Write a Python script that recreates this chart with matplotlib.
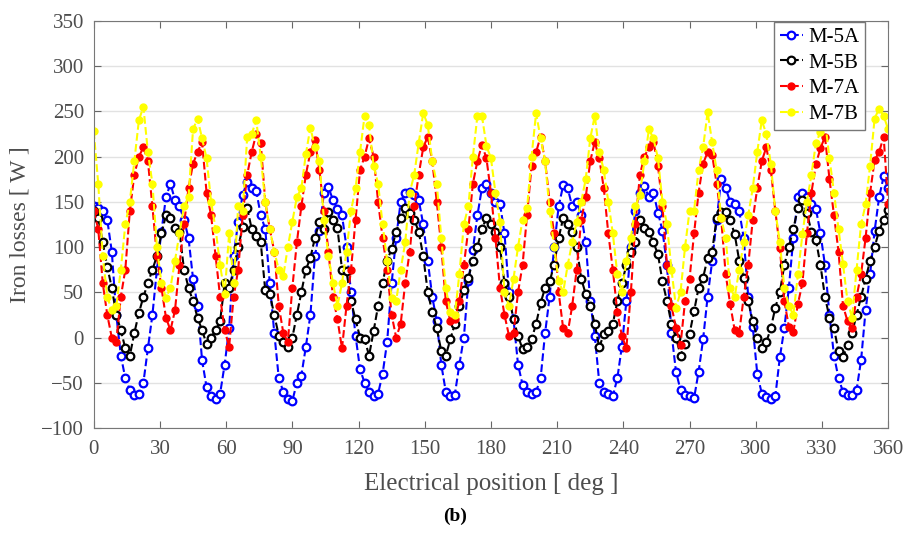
import numpy as np
import matplotlib
matplotlib.use("Agg")
import matplotlib.pyplot as plt

# iron losses [W] vs electrical position, 177 samples over 0..360 deg
m5a = [145, 143, 140, 130, 95, 25, -20, -45, -58, -63,
       -62, -50, -12, 25, 75, 117, 155, 170, 152, 145,
       130, 110, 65, 35, -25, -55, -65, -68, -62, -30,
       10, 90, 128, 158, 172, 165, 162, 135, 120, 60,
       5, -45, -60, -68, -70, -50, -42, -10, 25, 90,
       118, 160, 166, 152, 142, 135, 100, 50, 2, -35,
       -50, -60, -65, -62, -40, -5, 60, 110, 150, 160,
       161, 158, 152, 125, 85, 45, 18, -30, -60, -65,
       -63, -30, 0, 62, 97, 135, 165, 170, 160, 150,
       148, 115, 50, 20, -30, -52, -60, -62, -60, -45,
       5, 45, 100, 145, 168, 165, 145, 150, 135, 105,
       40, 2, -50, -60, -62, -65, -45, -10, 40, 100,
       140, 160, 167, 155, 160, 138, 118, 80, 5, -38,
       -58, -63, -65, -67, -38, -2, 45, 84, 130, 175,
       165, 150, 148, 140, 110, 45, 12, -40, -62, -66,
       -68, -65, -22, 10, 55, 110, 155, 160, 155, 147,
       142, 115, 80, 25, -20, -45, -60, -63, -64, -58,
       -25, 30, 70, 118, 155, 178, 165]

m5b = [140, 132, 105, 78, 55, 25, 8, -12, -20, 5,
       27, 45, 60, 75, 90, 115, 135, 132, 121, 117,
       75, 55, 40, 22, 8, -7, 0, 8, 18, 60,
       55, 75, 100, 122, 143, 120, 112, 105, 52, 48,
       25, 2, -5, -11, 0, 25, 50, 75, 88, 110,
       128, 120, 139, 130, 121, 75, 73, 40, 20, 0,
       -2, -20, 7, 35, 60, 85, 98, 117, 132, 143,
       138, 130, 117, 90, 50, 28, 10, -15, -20, -2,
       15, 35, 52, 66, 85, 100, 120, 132, 125, 117,
       100, 60, 45, 20, 2, -13, -10, -2, 15, 38,
       55, 62, 80, 110, 132, 125, 117, 100, 65, 48,
       35, 15, -11, 4, 7, 15, 40, 60, 80, 95,
       106, 130, 121, 117, 105, 92, 62, 40, 15, 0,
       -20, -7, 4, 29, 55, 66, 88, 95, 132, 139,
       139, 130, 114, 85, 66, 40, 18, 0, -12, -5,
       10, 33, 50, 80, 100, 120, 143, 152, 138, 117,
       108, 80, 45, 22, 10, -15, -22, -8, 5, 25,
       45, 65, 85, 100, 118, 130, 141]

m7a = [140, 120, 60, 25, 0, -5, 45, 75, 140, 180,
       200, 210, 195, 145, 90, 55, 22, 8, 30, 80,
       125, 165, 192, 205, 216, 160, 135, 90, 45, 8,
       -10, 45, 75, 135, 180, 205, 225, 215, 150, 120,
       95, 35, 5, -5, 55, 105, 145, 180, 205, 218,
       185, 140, 95, 45, 20, -12, 35, 75, 130, 185,
       200, 220, 200, 150, 110, 75, 25, 0, 15, 60,
       95, 145, 180, 210, 222, 195, 150, 100, 40, 18,
       20, 40, 80, 120, 170, 195, 213, 198, 160, 110,
       55, 25, 2, 5, 50, 80, 135, 190, 205, 222,
       195, 150, 115, 50, 10, 5, 35, 75, 130, 155,
       195, 216, 198, 165, 115, 75, 28, 2, -12, 50,
       125, 180, 200, 210, 216, 190, 145, 80, 35, 10,
       -8, 40, 65, 115, 160, 192, 205, 202, 170, 132,
       70, 37, 8, 5, 45, 80, 130, 165, 195, 210,
       185, 140, 99, 40, 12, 6, 37, 60, 115, 160,
       192, 209, 222, 175, 135, 95, 35, 18, 10, 45,
       70, 110, 160, 196, 205, 222, 148]

m7b = [228, 170, 90, 45, 30, 35, 75, 125, 150, 195,
       240, 255, 205, 170, 100, 60, 44, 55, 85, 115,
       145, 155, 230, 242, 220, 198, 150, 120, 80, 48,
       115, 60, 145, 140, 222, 225, 240, 200, 150, 120,
       95, 75, 68, 100, 128, 155, 165, 203, 232, 210,
       195, 130, 90, 60, 35, 60, 95, 140, 165, 205,
       245, 235, 190, 170, 125, 85, 44, 40, 75, 105,
       160, 180, 215, 248, 235, 195, 170, 110, 55, 28,
       25, 70, 125, 145, 200, 245, 245, 212, 198, 160,
       128, 50, 35, 65, 100, 130, 143, 200, 248, 220,
       195, 140, 100, 62, 50, 80, 105, 128, 150, 175,
       220, 245, 205, 185, 150, 115, 70, 50, 85, 110,
       145, 158, 195, 230, 220, 198, 150, 125, 75, 33,
       50, 100, 140, 140, 185, 210, 249, 216, 185, 132,
       110, 55, 45, 75, 105, 135, 165, 205, 240, 225,
       192, 140, 105, 55, 35, 25, 70, 114, 150, 180,
       215, 227, 240, 198, 160, 120, 81, 40, 22, 75,
       125, 147, 190, 242, 253, 245, 230]

pos = np.linspace(0, 360, len(m5a))

plt.rcParams['font.family'] = ['Liberation Serif', 'DejaVu Serif']
fig = plt.figure(figsize=(9.1, 5.33), dpi=100)
ax = fig.add_axes([0.103, 0.197, 0.873, 0.764])

ax.plot(pos, m5a, '--o', color='#0000ff', lw=1.5, ms=5.5, mfc='white', mew=1.6, label='M-5A')
ax.plot(pos, m5b, '--o', color='black', lw=1.5, ms=5.5, mfc='white', mew=1.6, label='M-5B')
ax.plot(pos, m7a, '--o', color='#ff0000', lw=1.5, ms=5, label='M-7A')
ax.plot(pos, m7b, '--o', color='#ffff00', lw=1.5, ms=5, label='M-7B')

ax.set_xlim(0, 360)
ax.set_ylim(-100, 350)
ax.set_xticks(np.arange(0, 361, 30))
ax.set_yticks(np.arange(-100, 351, 50))
ax.yaxis.grid(True, color='#e2e2e2', lw=1)
ax.set_axisbelow(True)
ax.tick_params(direction='in', top=True, right=True, length=5, color='#666666',
               labelsize=15, labelcolor='#4d4d4d')
ax.tick_params(axis='x', pad=9)
ax.tick_params(axis='y', pad=7)
for s in ax.spines.values():
    s.set_color('#777777')

ax.set_xlabel('Electrical position [ deg ]', fontsize=18, color='#4d4d4d', labelpad=10)
ax.set_ylabel('Iron losses [ W ]', fontsize=17, color='#4d4d4d', labelpad=8)

leg = ax.legend(loc='upper right', bbox_to_anchor=(0.971, 0.997), borderaxespad=0,
                fontsize=15, handlelength=1.1, handletextpad=0.3, borderpad=0.25,
                labelspacing=0.3, fancybox=False, framealpha=1)
leg.get_frame().set_edgecolor('#777777')

fig.text(0.5, 0.022, '(b)', ha='center', fontsize=14, fontweight='bold')

fig.savefig('out.png', dpi=100)
